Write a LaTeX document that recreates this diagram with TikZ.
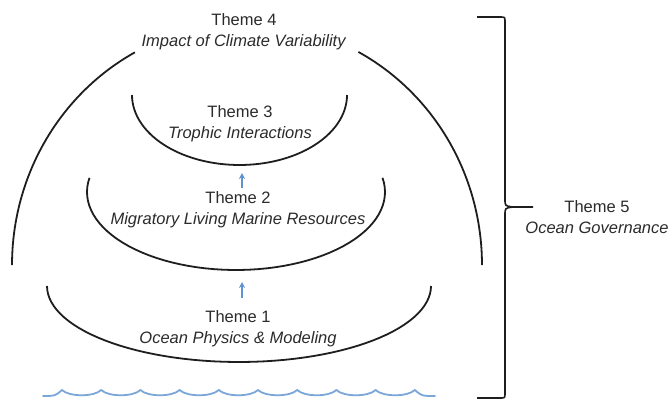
\documentclass[tikz,border=0pt]{standalone}
\usepackage{fontspec}
\setmainfont{Liberation Sans}
\usetikzlibrary{arrows.meta}
\definecolor{inkgray}{HTML}{2B2B2B}
\definecolor{lineblack}{HTML}{1E1E1E}
\definecolor{seablue}{HTML}{7AA6D8}
\definecolor{arrowblue}{HTML}{5E93D1}
\tikzset{
    themelabel/.style={align=center, text=inkgray, inner sep=0pt, font=\fontsize{16.5}{21}\selectfont},
    arch/.style={draw=lineblack, line width=1.8pt},
    liftarrow/.style={draw=arrowblue, line width=1.5pt, -{Stealth[length=6pt,width=6pt]}},
    sea/.style={draw=seablue, line width=1.8pt, line cap=round}
}
\begin{document}
\begin{tikzpicture}[x=1pt,y=-1pt]
            \useasboundingbox (0,0) rectangle (671,402);
            % theme labels
            \node[themelabel] (t4) at (244,32) {Theme 4\\\textit{Impact of Climate Variability}};
            \node[themelabel] (t3) at (240,124) {Theme 3\\\textit{Trophic Interactions}};
            \node[themelabel] (t2) at (238,210) {Theme 2\\\textit{Migratory Living Marine Resources}};
            \node[themelabel] (t1) at (238,329) {Theme 1\\\textit{Ocean Physics \& Modeling}};
            \node[themelabel] (t5) at (597,217) {Theme 5\\\textit{Ocean Governance}};
            % big arch of theme 4
            \draw[arch] plot[domain=180:241.5, samples=50] ({247+235*cos(\x)}, {265+242*sin(\x)});
            \draw[arch] plot[domain=298.3:360, samples=50] ({247+235*cos(\x)}, {265+242*sin(\x)});
            % cups
            \draw[arch] plot[domain=0:180, samples=60] ({239.5+107.5*cos(\x)}, {95+70*sin(\x)});
            \draw[arch] plot[domain=-10.5:190.5, samples=60] ({236+149*cos(\x)}, {192+78*sin(\x)});
            \draw[arch] plot[domain=0:180, samples=60] ({239+192*cos(\x)}, {286+76*sin(\x)});
            \coordinate (cup3) at (242,165);
            \coordinate (cup2) at (242,270);
            % arrows between themes
            \draw[liftarrow, shorten <=4pt, shorten >=8pt] (t2.north -| cup3) -- (cup3);
            \draw[liftarrow, shorten <=13pt, shorten >=12pt] (t1.north -| cup2) -- (cup2);
            % brace for theme 5
            \draw[arch, line width=1.6pt] (477,17) -- (500,17) .. controls (505,17) .. (505,22)
                -- (505,199) .. controls (505,206) .. (513,207) -- (533,207) -- (513,207)
                .. controls (505,208) .. (505,215) -- (505,393) .. controls (505,398) .. (500,398) -- (477,398);
            % sea
            \draw[sea] (43,396) .. controls (55,396) .. (62,390);
            \foreach \k in {0,...,8}
            {
                \draw[sea, xshift=39.2*\k pt] (62,390) .. controls (69,397) and (94.2,397) .. (101.2,390);
            };
            \draw[sea] (414.8,390) .. controls (422,396) .. (435,396);
\end{tikzpicture}
\end{document}
